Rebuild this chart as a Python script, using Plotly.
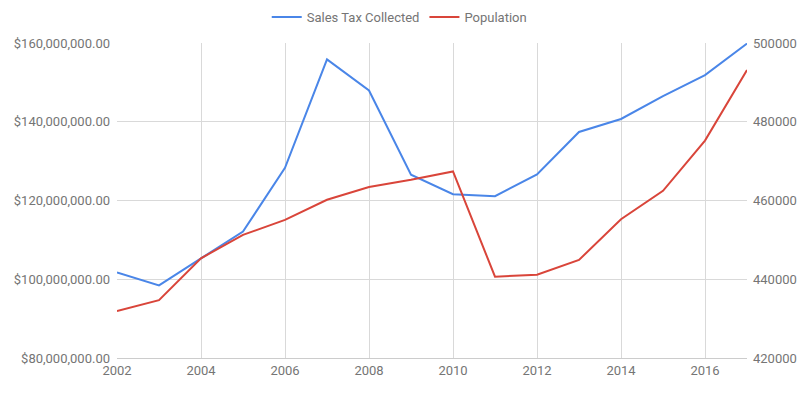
import plotly.graph_objects as go

years = list(range(2002, 2018))
sales_tax = [101.7e6, 98.45e6, 105.3e6, 112.1e6, 128.3e6, 155.85e6, 147.95e6, 126.55e6,
             121.6e6, 121.1e6, 126.6e6, 137.4e6, 140.7e6, 146.5e6, 151.85e6, 159.85e6]
population = [431900, 434700, 445330, 451260, 455090, 460180, 463420, 465280,
              467390, 440640, 441150, 444900, 455260, 462470, 475210, 493130]

fig = go.Figure()
fig.add_trace(go.Scatter(x=years, y=sales_tax, name="Sales Tax Collected", mode="lines",
                         line=dict(color="#4a86e8", width=2)))
fig.add_trace(go.Scatter(x=years, y=population, name="Population", mode="lines",
                         line=dict(color="#d9453a", width=2), yaxis="y2"))

grid = "#d9d9d9"
tickfont = dict(family="Roboto", size=13, color="#757575")
fig.update_layout(
    width=809, height=395,
    margin=dict(l=109, r=70, t=35, b=45, autoexpand=False),
    paper_bgcolor="white", plot_bgcolor="white",
    font=dict(family="Roboto", size=13, color="#757575"),
    showlegend=True,
    legend=dict(orientation="h", x=0.448, xanchor="center",
                y=1.0825, yanchor="middle", font=dict(size=13, color="#757575"),
                bgcolor="rgba(0,0,0,0)"),
    xaxis=dict(range=[2002, 2017], tick0=2002, dtick=2, showgrid=True, gridcolor=grid,
               zeroline=False, showline=True, linecolor="#cccccc", tickfont=tickfont,
               ticks="", automargin=False),
    yaxis=dict(range=[80e6, 160e6], dtick=20e6, tickprefix="$", tickformat=",.2f",
               showgrid=True, gridcolor=grid, zeroline=False, tickfont=tickfont, ticks="",
               ticklabelstandoff=6, automargin=False),
    yaxis2=dict(range=[420000, 500000], dtick=20000, tickformat="d", overlaying="y",
                side="right", showgrid=False, zeroline=False, tickfont=tickfont, ticks="",
                ticklabelstandoff=5, automargin=False),
)
fig.write_html("out.html")
